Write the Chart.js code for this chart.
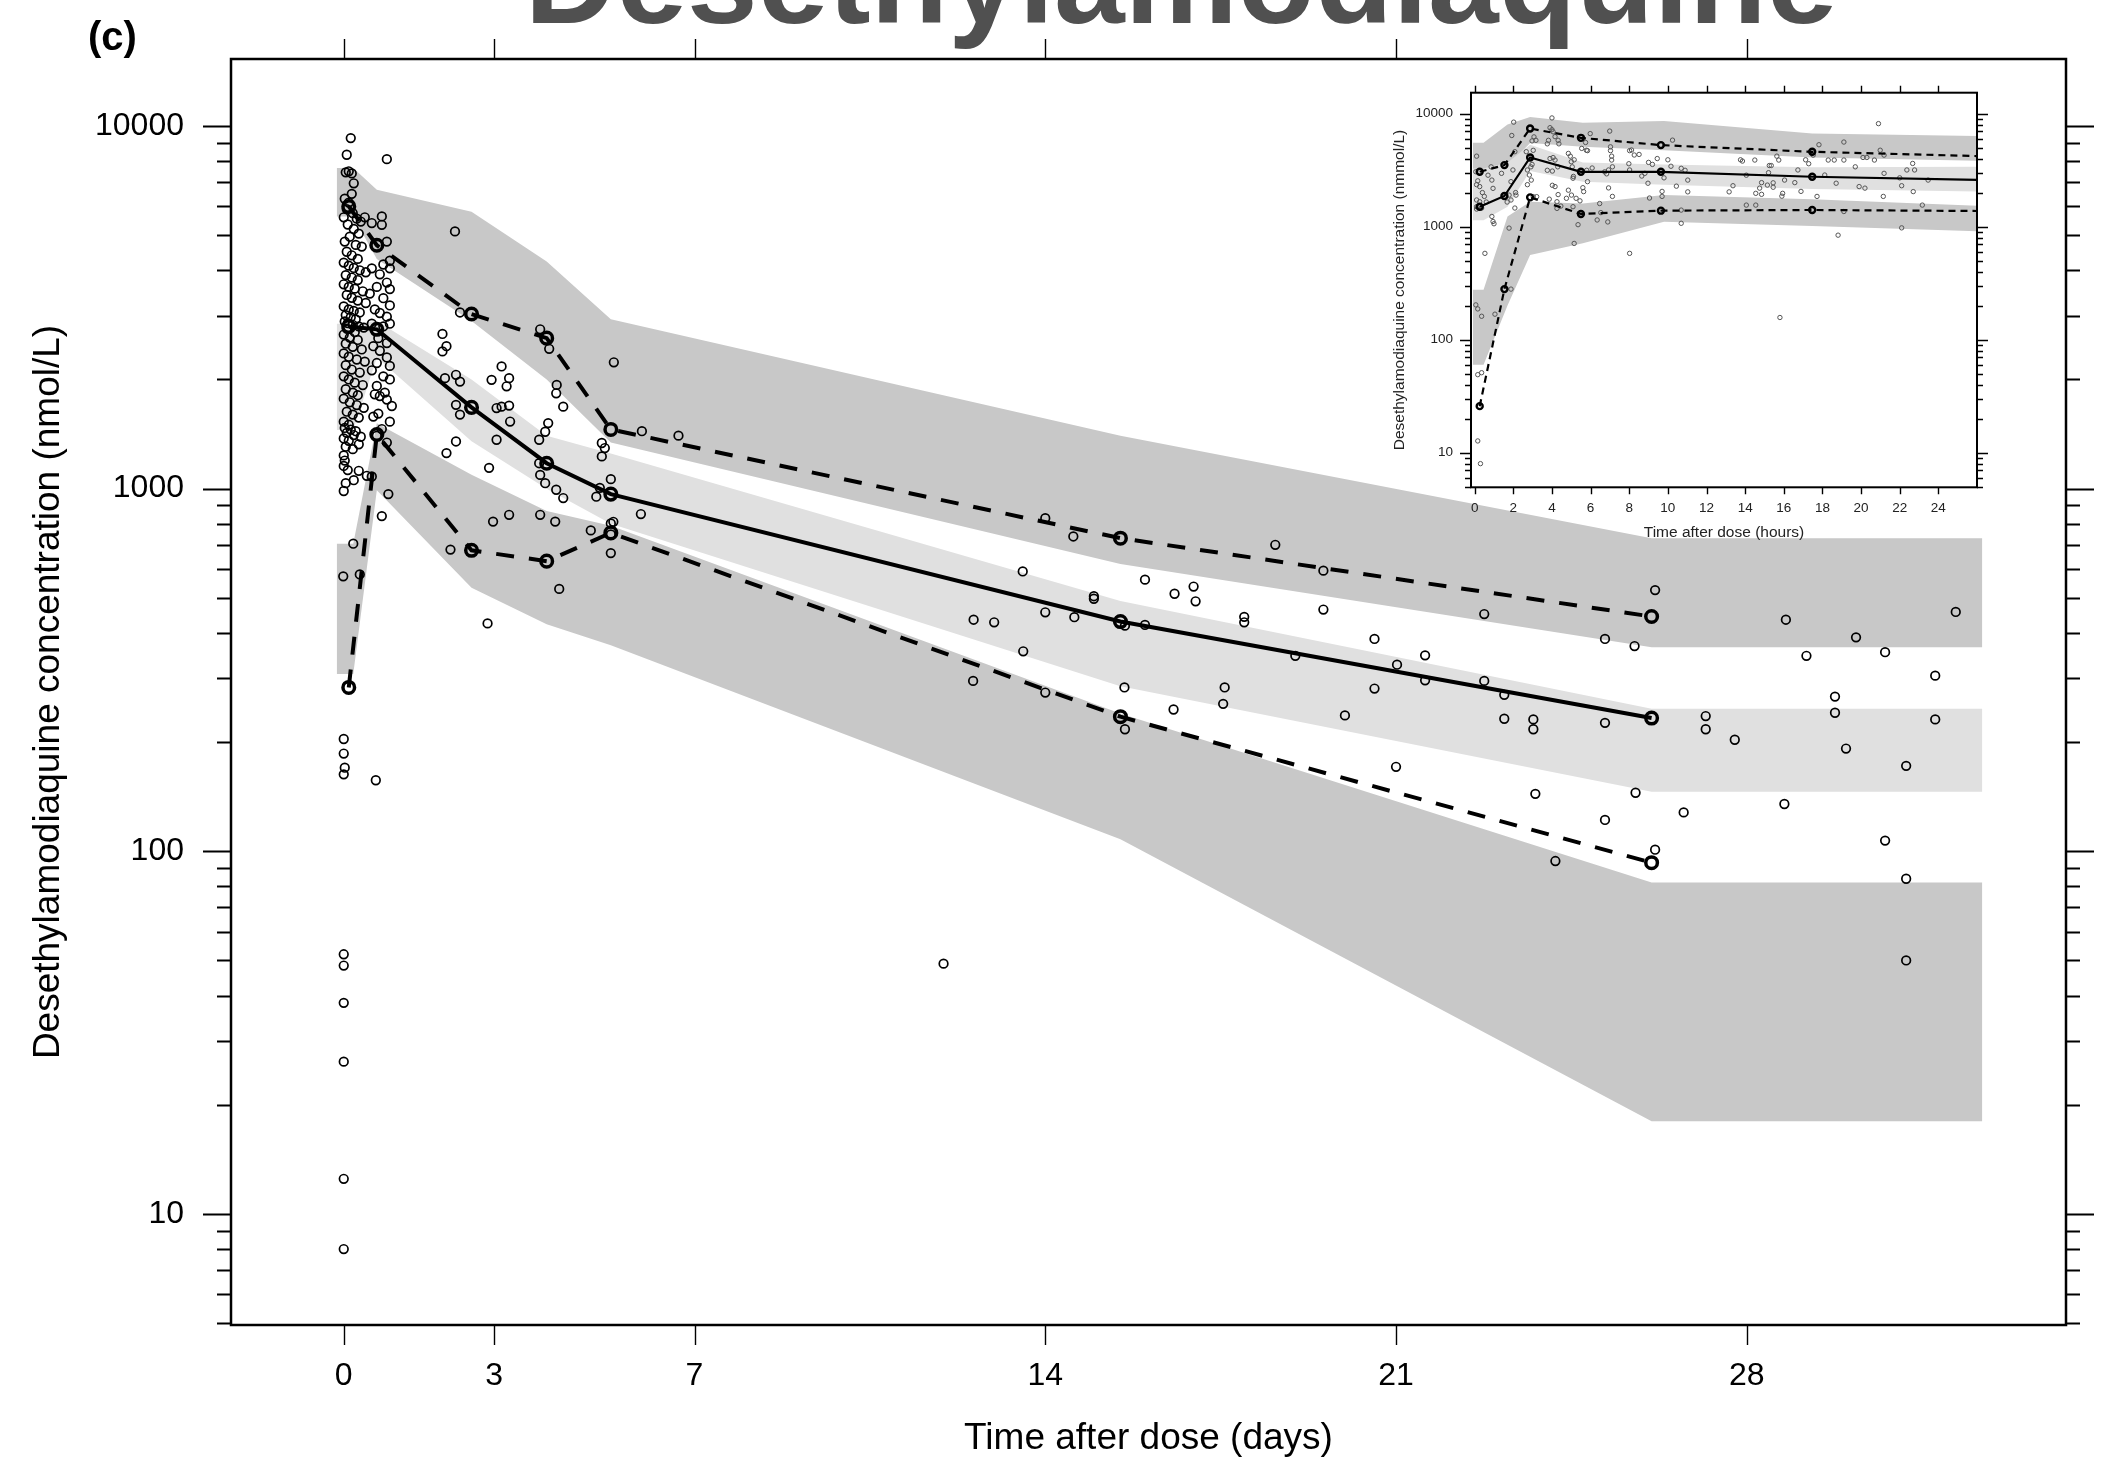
<!DOCTYPE html>
<html>
<head>
<meta charset="utf-8">
<script src="https://cdn.jsdelivr.net/npm/chart.js@4.4.1/dist/chart.umd.min.js"></script>
<style>
  html, body { margin: 0; padding: 0; background: #fff; }
  #wrap { position: relative; width: 2106px; height: 1461px; overflow: hidden; background: #fff; }
  #main { position: absolute; left: 0; top: 0; }
  #inset { position: absolute; left: 1380px; top: 70px; }
  .lbl { position: absolute; font-family: 'Liberation Sans', Arial, sans-serif; font-weight: bold; white-space: nowrap; }
  #title { left: 1181px; top: -84px; transform: translateX(-50%); font-size: 127px; line-height: 127px; color: #505050; }
  #panel { left: 88px; top: 16px; font-size: 40px; line-height: 40px; color: #000; }
</style>
</head>
<body>
<div id="wrap">
  <canvas id="main" width="2106" height="1461"></canvas>
  <canvas id="inset" width="610" height="490"></canvas>
  <div class="lbl" id="title">Desethylamodiaquine</div>
  <div class="lbl" id="panel">(c)</div>
</div>
<script>
const FONT = "'Liberation Sans', Arial, sans-serif";

// shared log axis ticks
const yTicks = [5, 6, 7, 8, 9, 10, 20, 30, 40, 50, 60, 70, 80, 90, 100, 200, 300, 400, 500, 600, 700, 800, 900,
  1000, 2000, 3000, 4000, 5000, 6000, 7000, 8000, 9000, 10000];
const yLabels = [10, 100, 1000, 10000];

// ---- main panel (days) ----
const dayTicks = [0, 3, 7, 14, 21, 28];

const binDays = [0.1, 0.66, 2.55, 4.05, 5.33, 15.5, 26.1];
const p95Days = [6000, 4690, 3030, 2600, 1456, 730, 444];
const p50Days = [2800, 2750, 1675, 1175, 966, 430, 233];
const p05Days = [283, 1410, 676, 631, 755, 235, 93];

const bandDays   = [-0.14, 0.19, 0.66, 2.55, 4.05, 5.33, 15.5, 26.1, 32.7];
const hiTopDays  = [7660, 7660, 6670, 5800, 4230, 2930, 1400, 730, 730];
const hiBotDays  = [5630, 5630, 4300, 2900, 2000, 1340, 620, 365, 365];
const midTopDays = [2850, 2850, 2900, 2000, 1400, 1250, 490, 247, 247];
const midBotDays = [1450, 1450, 2300, 1350, 1000, 800, 285, 146, 146];
const loTopDays  = [705, 705, 1514, 1092, 867, 790, 240, 82, 82];
const loBotDays  = [308, 308, 990, 533, 423, 370, 108, 18, 18];

// observations [day, nmol/L]
const obsEarly = [[0.14,9260],[0.06,8330],[0.04,7450],[0.1,7500],[0.16,7400],[0.2,6950],[0.16,6500],[0.02,6300],
  [0.1,6150],[0.06,5900],[0.18,5750],[0.0,5600],[0.26,5550],[0.34,5450],[0.42,5600],[0.08,5350],[0.2,5200],
  [0.3,5050],[0.12,4950],[0.02,4800],[0.24,4700],[0.36,4650],[0.06,4500],[0.16,4400],[0.28,4300],[0.0,4200],
  [0.1,4120],[0.2,4060],[0.32,4000],[0.44,3950],[0.04,3880],[0.16,3820],[0.28,3760],[0.0,3660],[0.1,3600],
  [0.22,3560],[0.38,3500],[0.06,3420],[0.16,3360],[0.28,3300],[0.44,3250],[0.0,3180],[0.1,3120],[0.2,3090],
  [0.32,3060],[0.04,3010],[0.14,2970],[0.24,2930],[0.02,2890],[0.08,2860],[0.18,2830],[0.3,2800],[0.4,2780],
  [0.06,2760],[0.22,2700],[0.0,2660],[0.12,2610],[0.28,2570],[0.04,2510],[0.18,2460],[0.36,2420],[0.0,2360],
  [0.1,2310],[0.26,2270],[0.42,2240],[0.04,2190],[0.16,2130],[0.32,2090],[0.0,2040],[0.1,2000],[0.22,1960],
  [0.38,1930],[0.04,1880],[0.18,1840],[0.28,1810],[0.0,1770],[0.12,1730],[0.26,1700],[0.4,1670],[0.06,1630],
  [0.18,1600],[0.3,1570],[0.0,1530],[0.1,1500],[0.02,1470],[0.14,1455],[0.24,1440],[0.06,1425],[0.2,1405],
  [0.34,1390],[0.0,1375],[0.1,1355],[0.3,1325],[0.04,1305],[0.18,1285],[0.0,1235],[0.02,1195],[0.0,1155],
  [0.08,1125],[0.3,1120],[0.46,1085],[0.2,1055],[0.04,1035],[0.0,985],
  [0,204],[0,186],[0.02,170],[0,163],[0.64,157],[0,52],[0,48.4],[0,38.2],[0,26.3],[0,12.5],[0,8.0],
  [-0.01,573],[0.19,705],[0.32,580],[0.76,840],[0.89,966]];
const obsDay1 = [[0.76,5630],[0.56,5400],[0.76,5340],[0.86,4800],[0.92,4250],[0.79,4150],[0.92,4050],[0.56,4050],
  [0.72,3900],[0.86,3700],[0.66,3600],[0.92,3550],[0.52,3450],[0.79,3350],[0.92,3200],[0.62,3120],[0.72,3050],
  [0.86,2980],[0.56,2850],[0.92,2850],[0.79,2800],[0.69,2600],[0.86,2520],[0.59,2470],[0.72,2400],[0.86,2300],
  [0.66,2220],[0.92,2180],[0.56,2120],[0.79,2040],[0.92,2000],[0.66,1920],[0.82,1840],[0.62,1820],[0.72,1800],
  [0.86,1760],[0.96,1690],[0.69,1610],[0.59,1580],[0.92,1530],[0.76,1460],[0.66,1400],[0.86,1340],[0.56,1080],
  [0.86,8100]];
const obsLater = [[2.22,5120],[1.97,2670],[2.05,2470],[1.97,2390],[2.02,2017],[2.24,2060],[2.32,1973],[2.24,1702],
  [2.32,1600],[2.05,1253],[2.24,1349],[2.9,1141],[3.15,2172],[2.95,1995],[3.3,2017],[3.25,1915],[3.05,1668],
  [3.15,1683],[3.3,1694],[3.32,1531],[3.05,1364],[2.98,811],[3.3,847],[3.92,847],[4.22,811],[4.25,1932],
  [4.24,1832],[4.38,1683],[4.02,1435],[4.08,1516],[3.9,1364],[3.9,1175],[3.92,1091],[4.02,1035],[4.24,993],
  [4.38,942],[5.39,2230],[5.15,1336],[5.21,1294],[5.15,1227],[5.33,1062],[5.11,1005],[5.04,950],[5.33,802],
  [5.38,810],[5.33,748],[5.33,664],[4.93,767],[2.87,425],[2.13,679],[4.3,529],[3.92,2750],[4.1,2430],[2.32,3060],
  [5.95,1440],[5.93,851],[6.68,1400],
  [14.0,829],[14.56,738],[13.55,591],[15.99,561],[14.97,505],[14.97,497],[14.0,456],[14.58,442],[12.57,435],
  [12.98,428],[15.59,419],[15.99,421],[13.56,356],[12.56,295],[14.0,274],[15.58,283],[15.59,217],[11.97,49],
  [18.59,700],[19.55,594],[16.58,513],[16.96,537],[17.0,489],[17.97,443],[17.97,428],[19.55,464],[22.76,451],
  [26.17,525],[20.57,385],[25.17,385],[25.76,368],[18.99,346],[21.58,347],[21.02,327],[21.58,296],[22.76,295],
  [23.16,270],[17.58,283],[20.57,281],[17.55,255],[16.56,246],[19.98,237],[23.16,232],[23.74,231],[23.74,217],
  [25.17,226],[21.0,171],[23.78,144],[25.78,145],[25.17,122],[24.18,94],[26.17,101],
  [28.78,435],[32.17,457],[30.18,389],[29.19,346],[30.76,354],[31.76,305],[29.76,267],[29.76,241],[27.18,236],
  [27.18,217],[27.76,203],[31.76,231],[29.98,192],[31.18,172],[28.75,135],[26.74,128],[30.76,107],[31.18,84],
  [31.18,50]];

// ---- inset (hours) ----
const hourTicks = [0, 2, 4, 6, 8, 10, 12, 14, 16, 18, 20, 22, 24];

const binHours = [0.26, 1.54, 2.87, 5.5, 9.64, 17.47, 32];
const p95Hours = [3055, 3500, 7380, 6100, 5260, 4590, 3960];
const p50Hours = [1500, 1866, 4090, 3055, 3055, 2760, 2470];
const p05Hours = [25.8, 280, 1815, 1294, 1384, 1403, 1355];

const bandHours   = [-0.1, 0.46, 1.7, 2.87, 5.6, 9.8, 17.47, 26.5];
const hiTopHours  = [5510, 5510, 8000, 9350, 8280, 8610, 6670, 6310];
const hiBotHours  = [3150, 3150, 3400, 5500, 5080, 4740, 4090, 3820];
const midTopHours = [3270, 3270, 3700, 5300, 3700, 3550, 3350, 3380];
const midBotHours = [1140, 1140, 1500, 3100, 2500, 2350, 2150, 2040];
const loTopHours  = [276, 276, 1230, 1660, 1600, 1900, 1750, 1520];
const loBotHours  = [60, 60, 200, 562, 713, 1106, 1014, 903];

const obsHours = [[0.1,4200],[0.06,3060],[0.16,2540],[0.1,2350],[0.26,2260],[0.4,2000],[0.1,1720],[0.26,1660],
  [0.1,1500],[0.36,1460],[0.1,1430],[0.69,2850],[0.89,2580],[0.95,2180],[0.89,1230],[0.95,1110],[1.0,1060],
  [0.53,580],[0.06,203],[0.16,187],[0.36,161],[1.05,168],[0.16,49],[0.36,51],[0.16,12.7],[0.3,8.0],
  [0.85,3380],[0.5,1850],[0.6,1650],
  [1.39,2960],[1.78,1900],[1.88,2500],[1.98,3170],[2.02,8400],[1.92,6400],[2.08,4600],[2.14,1900],[1.68,1650],
  [1.88,1720],[1.78,970],[1.88,280],[2.08,1460],[2.12,2000],
  [2.67,4600],[2.73,3170],[2.83,2860],[2.93,2580],[2.73,2350],[2.97,3550],[2.91,3380],[3.07,6220],[2.97,5730],
  [3.17,5800],[3.03,4730],[3.03,1840],[3.21,1840],
  [4.0,9150],[3.9,7500],[4.0,7200],[4.06,6900],[3.82,5800],[4.16,6250],[4.32,5800],[4.36,5400],[3.76,5400],
  [4.06,4080],[3.9,4000],[4.16,3880],[4.3,3380],[4.02,3100],[3.76,3150],[4.02,2320],[4.16,2260],[4.32,1920],
  [3.86,1750],[4.26,1660],[4.26,1450],[4.46,1520],[4.75,1780],[4.85,2100],[4.85,4440],[4.95,4200],[5.0,3750],
  [5.05,3380],[5.15,3900],[5.11,2780],[5.09,2680],[5.09,1500],[5.15,710],[5.01,1900],
  [5.35,1040],[5.25,1780],[5.6,2210],[5.64,2040],[5.45,1690],[5.74,5550],[5.78,4740],[5.84,4700],[5.54,4920],
  [5.98,6650],[5.8,3150],[5.84,2500],[6.08,3300],[6.34,1145],[6.47,1600],[6.53,1330],[6.73,3050],[6.83,2930],
  [6.93,3170],[6.89,1100],[6.99,7000],[7.03,5080],[7.03,4700],[7.09,4200],[7.09,3880],[7.13,3380],[7.13,1850],
  [6.93,2200],
  [8.02,4700],[8.12,4760],[7.98,3600],[8.02,3170],[8.02,580],[8.26,4300],[8.51,4350],[8.65,2800],[8.81,2960],
  [8.97,2420],[9.0,3700],[9.2,3550],[9.05,1790],[9.45,4000],[9.8,2700],[9.7,2050],[9.7,1850],[10.0,3900],
  [10.16,3420],[10.24,5820],[10.44,2280],[10.69,3280],[10.69,1400],[10.69,1070],[10.89,3150],[11.03,2580],
  [11.03,2030],
  [13.17,2030],[13.37,2300],[13.86,3800],[13.76,3900],[14.06,2850],[14.06,1550],[14.5,3880],[14.55,1970],
  [14.55,1550],[14.75,2190],[14.85,2450],[14.85,1930],[15.15,2330],[15.21,3000],[15.25,3470],[15.35,3470],
  [15.45,2230],[15.45,2440],[15.64,4200],[15.74,3880],[15.8,157],[15.9,1860],[15.94,1970],[16.04,2580],
  [16.57,2450],[16.73,3170],[16.89,2050],[17.13,3900],[17.29,3600],[17.52,4290],[17.72,1850],[17.82,5300],
  [18.12,2860],[18.3,3880],[18.61,3880],[18.71,2420],[18.81,840],[19.11,5600],[19.11,3880],[19.11,1360],
  [19.7,3380],[19.9,2260],[20.2,2190],[20.3,4090],[20.1,4090],[20.69,3880],[20.9,8150],[20.99,4740],
  [21.19,4290],[21.19,2960],[21.15,1850],[22.0,2700],[22.1,2300],[22.1,975],[22.37,3170],[22.67,3620],
  [22.7,2040],[22.77,3170],[23.17,1550],[23.47,2580]];

function pts(xs, ys) { return xs.map((x, i) => ({ x: x, y: ys[i] })); }
function pairs(list) { return list.map(p => ({ x: p[0], y: p[1] })); }

const framePlugin = {
  id: 'frame',
  afterDraw(chart, args, o) {
    const { ctx, chartArea: a, scales } = chart;
    const x = scales.x, y = scales.y;
    ctx.save();
    ctx.strokeStyle = '#000';
    ctx.lineWidth = o.yTickWidth;
    ctx.beginPath();
    yTicks.forEach(v => {
      const py = Math.round(y.getPixelForValue(v)) + 0.5;
      const len = yLabels.includes(v) ? o.major : o.minor;
      ctx.moveTo(a.left - len, py); ctx.lineTo(a.left, py);
      ctx.moveTo(a.right, py); ctx.lineTo(a.right + len, py);
    });
    ctx.stroke();
    ctx.lineWidth = o.xTickWidth;
    ctx.beginPath();
    o.xTicks.forEach(v => {
      const px = Math.round(x.getPixelForValue(v)) + 0.5;
      ctx.moveTo(px, a.top - o.xLen); ctx.lineTo(px, a.top);
      ctx.moveTo(px, a.bottom); ctx.lineTo(px, a.bottom + o.xLen);
    });
    ctx.stroke();
    ctx.lineWidth = o.frameWidth;
    ctx.strokeRect(a.left, a.top, a.right - a.left, a.bottom - a.top);
    ctx.restore();
  }
};

function bandSet(xs, top, bot, color, order) {
  const edge = { borderColor: 'rgba(0,0,0,0)', borderWidth: 0, pointRadius: 0, tension: 0, order: order };
  return [
    Object.assign({ data: pts(xs, top), fill: '+1', backgroundColor: color }, edge),
    Object.assign({ data: pts(xs, bot), fill: false }, edge)
  ];
}

function vpcLine(xs, ys, dashed, s) {
  return {
    data: pts(xs, ys), fill: false, tension: 0, order: 1,
    borderColor: '#000', borderWidth: s.lw, borderDash: dashed ? s.dash : [],
    pointRadius: s.pr, pointBorderWidth: s.pbw, pointBorderColor: '#000',
    pointBackgroundColor: 'rgba(0,0,0,0)'
  };
}

function makeChart(id, cfg) {
  const s = cfg.style;
  const datasets = [].concat(
    bandSet(cfg.bandX, cfg.hiTop, cfg.hiBot, '#c8c8c8', 20),
    bandSet(cfg.bandX, cfg.loTop, cfg.loBot, '#c8c8c8', 20),
    bandSet(cfg.bandX, cfg.midTop, cfg.midBot, '#e0e0e0', 19),
    [{
      data: pairs(cfg.obs), showLine: false, order: 10,
      pointRadius: s.or, pointBorderWidth: s.obw, pointBorderColor: s.oc,
      pointBackgroundColor: 'rgba(0,0,0,0)'
    }],
    [vpcLine(cfg.bins, cfg.p95, true, s), vpcLine(cfg.bins, cfg.p50, false, s), vpcLine(cfg.bins, cfg.p05, true, s)]
  );
  return new Chart(document.getElementById(id), {
    type: 'line',
    data: { datasets: datasets },
    plugins: [framePlugin],
    options: {
      responsive: false, animation: false, devicePixelRatio: 1,
      layout: { padding: cfg.pad },
      plugins: { legend: { display: false }, tooltip: { enabled: false }, frame: cfg.frame },
      scales: {
        x: {
          type: 'linear', min: cfg.xMin, max: cfg.xMax, position: 'bottom',
          afterBuildTicks: sc => { sc.ticks = cfg.frame.xTicks.map(v => ({ value: v })); },
          afterFit: sc => { sc.height = cfg.xH; sc.paddingLeft = 0; sc.paddingRight = 0; },
          grid: { display: false, drawTicks: false }, border: { display: false },
          ticks: { autoSkip: false, maxRotation: 0, padding: cfg.xPad, color: cfg.tc, font: { family: FONT, size: cfg.tf } },
          title: { display: true, text: cfg.xTitle, color: cfg.tc, font: { family: FONT, size: cfg.ttf }, padding: { top: 0, bottom: cfg.xtPad } }
        },
        y: {
          type: 'logarithmic', min: 4.94, max: 15300, position: 'left',
          afterBuildTicks: sc => { sc.ticks = yTicks.map(v => ({ value: v })); },
          afterFit: sc => { sc.width = cfg.yW; sc.paddingTop = 0; sc.paddingBottom = 0; },
          grid: { display: false, drawTicks: false }, border: { display: false },
          ticks: { autoSkip: false, padding: cfg.yPad, color: cfg.tc, font: { family: FONT, size: cfg.tf },
            callback: v => yLabels.includes(v) ? String(v) : '' },
          title: { display: true, text: cfg.yTitle, color: cfg.tc, font: { family: FONT, size: cfg.ttf }, padding: { top: cfg.ytPad, bottom: 0 } }
        }
      }
    }
  });
}

makeChart('main', {
  bandX: bandDays, hiTop: hiTopDays, hiBot: hiBotDays, midTop: midTopDays, midBot: midBotDays,
  loTop: loTopDays, loBot: loBotDays,
  bins: binDays, p95: p95Days, p50: p50Days, p05: p05Days,
  obs: obsEarly.concat(obsDay1, obsLater),
  xMin: -2.25, xMax: 34.37,
  pad: { left: 0, right: 40, top: 59, bottom: 0 }, xH: 136, yW: 231,
  xPad: 32, yPad: 47, xtPad: 0, ytPad: 27, tf: 32, ttf: 37, tc: '#000',
  xTitle: 'Time after dose (days)', yTitle: 'Desethylamodiaquine concentration (nmol/L)',
  style: { lw: 4, dash: [18, 15], pr: 5.8, pbw: 3.5, or: 4.3, obw: 1.7, oc: '#000' },
  frame: { xTicks: dayTicks, major: 28, minor: 14, xLen: 20, yTickWidth: 2.2, xTickWidth: 1.4, frameWidth: 2.5 }
});

makeChart('inset', {
  bandX: bandHours, hiTop: hiTopHours, hiBot: hiBotHours, midTop: midTopHours, midBot: midBotHours,
  loTop: loTopHours, loBot: loBotHours,
  bins: binHours, p95: p95Hours, p50: p50Hours, p05: p05Hours,
  obs: obsHours,
  xMin: -0.19, xMax: 26.0,
  pad: { left: 0, right: 13, top: 22.7, bottom: 0 }, xH: 72.7, yW: 91,
  xPad: 12.6, yPad: 18, xtPad: 17.7, ytPad: 10.7, tf: 13.5, ttf: 15.5, tc: '#222',
  xTitle: 'Time after dose (hours)', yTitle: 'Desethylamodiaquine concentration (nmmol/L)',
  style: { lw: 2.2, dash: [7, 5], pr: 3, pbw: 2.4, or: 2.2, obw: 1, oc: '#555' },
  frame: { xTicks: hourTicks, major: 11, minor: 6, xLen: 7, yTickWidth: 1.4, xTickWidth: 1.4, frameWidth: 2 }
});
</script>
</body>
</html>
